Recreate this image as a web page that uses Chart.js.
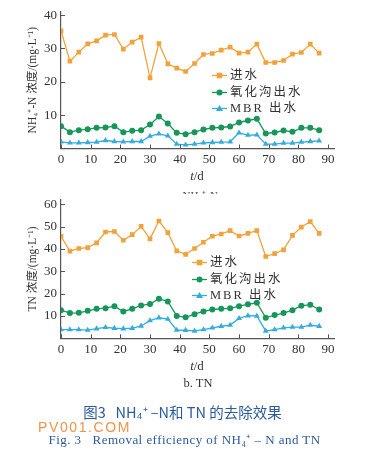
<!DOCTYPE html>
<html>
<head>
<meta charset="utf-8">
<script src="https://cdn.jsdelivr.net/npm/chart.js@4.4.1/dist/chart.umd.min.js"></script>
<style>
body{margin:0;background:#fff;width:369px;height:455px;position:relative;overflow:hidden;font-family:"Liberation Serif","Noto Sans CJK SC",serif;color:#333}
canvas{position:absolute;left:0}
#c1{top:0}
#c2{top:188px}
.lg{position:absolute;font-size:12.5px;letter-spacing:2px;line-height:16.7px;color:#333}
.lg div{display:flex;align-items:center;white-space:nowrap}
.lg svg{margin-right:3px}
.xt{position:absolute;width:60px;text-align:center;font-size:13px;line-height:14px}
.cap{position:absolute;left:0;width:369px;text-align:center;white-space:nowrap}
</style>
</head>
<body>
<canvas id="c1" width="369" height="200"></canvas>
<canvas id="c2" width="369" height="212"></canvas>

<div class="xt" style="left:167px;top:169px"><i>t</i>/d</div>
<div style="position:absolute;left:160px;top:189px;width:70px;height:5px;overflow:hidden;text-align:center;font-size:11px;line-height:13px;color:#555">a. NH₄⁺-N</div>
<div class="lg" id="lg1" style="left:212px;top:67px"></div>

<div class="xt" style="left:167px;top:359px"><i>t</i>/d</div>
<div class="xt" style="left:168px;top:376px;font-size:12.5px">b. TN</div>
<div class="lg" id="lg2" style="left:192px;top:254px"></div>

<div class="cap" style="top:401px;left:-2px;font-family:'Noto Sans CJK SC',sans-serif;font-size:14.5px;color:#2b5b9c">图3&nbsp;&nbsp; NH₄⁺ –N和 TN 的去除效果</div>
<div style="position:absolute;left:38px;top:419px;font-family:'Liberation Sans',sans-serif;font-size:14px;letter-spacing:1.6px;color:rgba(236,128,40,0.85)">PV001.COM</div>
<div class="cap" style="top:430px;left:0;font-size:13px;letter-spacing:0.45px;color:#2b5b9c">Fig. 3&nbsp;&nbsp; Removal efficiency of NH₄⁺ – N and TN</div>

<script>
// days of sampling
const days = [0, 3, 6, 9, 12, 15, 18, 21, 24, 27, 30, 33, 36, 39, 42, 45, 48, 51, 54, 57, 60, 63, 66, 69, 72, 75, 78, 81, 84, 87]

// NH4+-N, mg/L
const nh4In = [35.3, 26.2, 28.9, 31.4, 32.3, 34.0, 34.2, 29.8, 31.9, 33.4, 21.2, 31.5, 25.4, 24.1, 23.1, 25.5, 28.2, 28.5, 29.5, 30.4, 28.6, 28.9, 31.3, 25.8, 25.8, 26.4, 28.3, 28.8, 31.3, 28.6]
const nh4Ox = [6.7, 4.9, 5.5, 5.8, 6.2, 6.3, 6.7, 4.9, 5.3, 5.5, 7.2, 9.6, 7.5, 4.7, 4.3, 4.9, 5.7, 6.2, 6.3, 6.6, 7.8, 8.4, 8.9, 4.5, 4.8, 5.4, 5.0, 6.2, 6.2, 5.5]
const nh4Mbr = [2.0, 1.7, 1.7, 1.8, 1.9, 2.4, 2.1, 2.0, 2.1, 2.1, 3.7, 4.4, 3.8, 1.3, 1.1, 1.3, 1.7, 1.8, 1.9, 2.0, 4.7, 4.0, 4.1, 1.3, 1.3, 1.6, 1.6, 1.9, 2.1, 2.3]

// TN, mg/L
const tnIn = [45.7, 39.0, 40.2, 40.6, 42.7, 47.6, 47.8, 43.9, 46.4, 50.1, 44.5, 52.5, 47.3, 39.1, 37.6, 40.2, 43.0, 45.7, 46.7, 48.2, 45.8, 47.0, 48.2, 36.6, 37.9, 39.6, 46.1, 49.8, 52.2, 47.0]
const tnOx = [12.6, 11.3, 11.4, 12.3, 13.2, 13.5, 14.4, 12.0, 13.2, 14.7, 15.3, 17.7, 16.5, 10.0, 9.4, 10.8, 12.0, 12.9, 13.2, 13.4, 14.4, 15.2, 15.9, 9.2, 10.4, 11.3, 12.6, 14.6, 15.0, 12.9]
const tnMbr = [3.9, 3.9, 3.9, 3.7, 4.3, 4.9, 4.5, 4.3, 4.5, 5.5, 7.9, 9.2, 8.6, 3.7, 3.6, 3.3, 3.9, 4.7, 5.4, 5.9, 8.9, 10.1, 10.0, 3.3, 3.9, 4.7, 5.0, 5.0, 5.9, 5.4]

// tick labels
const xTicks = [0, 10, 20, 30, 40, 50, 60, 70, 80, 90]
const nh4Ticks = [0, 10, 20, 30, 40]
const tnTicks = [0, 10, 20, 30, 40, 50, 60]

const names = ['进水', '氧化沟出水', 'MBR 出水']
const colors = ['#f2a23a', '#16975a', '#33ace0']
const shapes = ['rect', 'circle', 'triangle']
const radii = [3.3, 3, 3.4]

const axisColor = '#555'
const serif = '"Liberation Serif", "Noto Sans CJK SC", serif'

// short ticks pointing into the plot
const inwardTicks = {
    id:'inwardTicks',
    afterDraw(chart){
        const ctx = chart.ctx
        const x = chart.scales.x
        const y = chart.scales.y
        const a = chart.chartArea
        ctx.save()
        ctx.strokeStyle = axisColor
        ctx.lineWidth = 1
        ctx.beginPath()
        x.ticks.forEach(t => {
            const px = Math.round(x.getPixelForValue(t.value)) + 0.5
            ctx.moveTo(px, a.bottom)
            ctx.lineTo(px, a.bottom - 4)
        })
        y.ticks.forEach(t => {
            if (t.value === 0) return
            const py = Math.round(y.getPixelForValue(t.value)) + 0.5
            ctx.moveTo(a.left, py)
            ctx.lineTo(a.left + 4, py)
        })
        ctx.stroke()
        ctx.restore()
    }
}

function makeChart(id, series, yTicks, yMax, yTitle, padTop, xHeight){
    const datasets = series.map((vals, i) => ({
        label:names[i],
        data:days.map((d, k) => ({x:d, y:vals[k]})),
        borderColor:colors[i],
        backgroundColor:colors[i],
        borderWidth:1.3,
        pointStyle:shapes[i],
        pointRadius:radii[i],
        pointBorderWidth:0,
        tension:0
    }))
    return new Chart(document.getElementById(id), {
        type:'line',
        data:{datasets},
        options:{
            responsive:false,
            animation:false,
            devicePixelRatio:1,
            layout:{padding:{left:0, right:35, top:padTop, bottom:0}},
            plugins:{legend:{display:false}, tooltip:{enabled:false}},
            scales:{
                x:{
                    type:'linear',
                    min:0,
                    max:92,
                    afterBuildTicks:s => { s.ticks = xTicks.map(v => ({value:v})) },
                    afterFit:s => { s.height = xHeight },
                    grid:{display:false, drawTicks:false},
                    border:{display:true, color:axisColor, width:1.2},
                    ticks:{padding:3, color:'#333', font:{family:serif, size:13}, maxRotation:0, autoSkip:false},
                },
                y:{
                    min:0,
                    max:yMax,
                    afterBuildTicks:s => { s.ticks = yTicks.map(v => ({value:v})) },
                    afterFit:s => { s.width = 61 },
                    grid:{display:false, drawTicks:false},
                    border:{display:true, color:axisColor, width:1.2},
                    ticks:{padding:4, color:'#333', font:{family:serif, size:13}, autoSkip:false,
                        callback:v => v === 0 ? '' : v},
                    title:{display:true, text:yTitle, color:'#333', font:{family:serif, size:11.5}, padding:{top:26, bottom:0}}
                }
            }
        },
        plugins:[inwardTicks]
    })
}

makeChart('c1', [nh4In, nh4Ox, nh4Mbr], nh4Ticks, 41, 'NH₄⁺-N 浓度/(mg·L⁻¹)', 10, 51.5)
makeChart('c2', [tnIn, tnOx, tnMbr], tnTicks, 62, 'TN 浓度/(mg·L⁻¹)', 11.5, 61.7)

// legend rows: a short line with the marker on it
function marker(i){
    const c = colors[i]
    let m = ''
    if (shapes[i] === 'rect') m = `<rect x="4.7" y="2.7" width="5.6" height="5.6" fill="${c}"/>`
    if (shapes[i] === 'circle') m = `<circle cx="7.5" cy="5.5" r="3" fill="${c}"/>`
    if (shapes[i] === 'triangle') m = `<polygon points="7.5,2 11,8 4,8" fill="${c}"/>`
    return `<svg width="15" height="11"><line x1="0" y1="5.5" x2="15" y2="5.5" stroke="${c}" stroke-width="1.3"/>${m}</svg>`
}
['lg1', 'lg2'].forEach(id => {
    document.getElementById(id).innerHTML = names.map((n, i) => `<div>${marker(i)}<span>${n}</span></div>`).join('')
})
</script>
</body>
</html>
